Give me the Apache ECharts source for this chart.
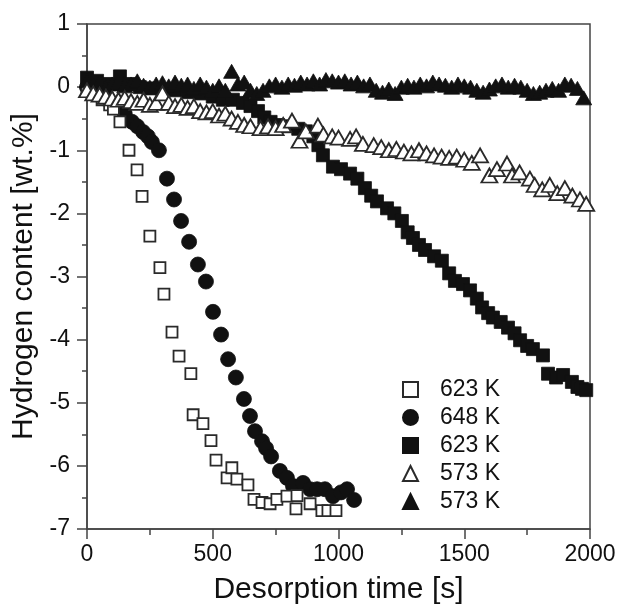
<!DOCTYPE html>
<html><head><meta charset="utf-8">
<script src="https://cdn.jsdelivr.net/npm/echarts@6/dist/echarts.min.js"></script>
<style>html,body{margin:0;padding:0;background:#fff}#c{width:619px;height:610px}</style>
</head><body><div id="c"></div>
<script>
// ---- data ----
const legendNames = ['623 K', '648 K', '623 K ', '573 K', '573 K '];
const xTicks = [0, 500, 1000, 1500, 2000];
const yTicks = [1, 0, -1, -2, -3, -4, -5, -6, -7];

const sqOpenT = [0, 30, 60, 90, 105, 131, 167, 199, 219, 250, 290, 306, 338, 366, 413, 422, 461, 493, 513, 557, 576, 596, 640, 664, 696, 728, 755, 795, 831, 835, 887, 934, 958, 990];
const sqOpenV = [-0.05, -0.12, -0.2, -0.28, -0.35, -0.55, -1.0, -1.31, -1.73, -2.36, -2.86, -3.28, -3.88, -4.26, -4.54, -5.19, -5.33, -5.6, -5.91, -6.19, -6.03, -6.21, -6.3, -6.53, -6.58, -6.6, -6.53, -6.48, -6.68, -6.47, -6.6, -6.71, -6.71, -6.71];

const circT = [0, 40, 80, 120, 150, 179, 200, 223, 242, 258, 286, 318, 346, 374, 406, 441, 473, 501, 533, 561, 592, 624, 648, 668, 696, 712, 732, 767, 795, 819, 859, 887, 915, 946, 978, 1010, 1034, 1062];
const circV = [0.0, -0.08, -0.18, -0.3, -0.42, -0.55, -0.62, -0.71, -0.78, -0.87, -1.0, -1.45, -1.78, -2.12, -2.45, -2.81, -3.08, -3.56, -3.92, -4.31, -4.6, -4.94, -5.21, -5.45, -5.61, -5.72, -5.85, -6.08, -6.19, -6.32, -6.27, -6.37, -6.37, -6.37, -6.48, -6.42, -6.37, -6.54];

const sqFillT = [0, 40, 80, 131, 170, 210, 250, 300, 350, 400, 450, 500, 540, 580, 620, 650, 680, 705, 730, 760, 800, 840, 870, 900, 920, 938, 978, 1010, 1046, 1075, 1105, 1130, 1153, 1193, 1222, 1252, 1275, 1296, 1320, 1344, 1380, 1411, 1440, 1463, 1495, 1523, 1550, 1571, 1595, 1614, 1645, 1674, 1700, 1722, 1750, 1773, 1813, 1833, 1865, 1893, 1928, 1950, 1968, 1985];
const sqFillV = [0.15, 0.1, 0.05, 0.17, 0.05, 0.0, -0.02, -0.05, -0.05, -0.08, -0.1, -0.15, -0.2, -0.2, -0.25, -0.3, -0.38, -0.48, -0.55, -0.6, -0.62, -0.66, -0.7, -0.78, -0.92, -1.08, -1.26, -1.3, -1.37, -1.45, -1.6, -1.72, -1.81, -1.92, -2.0, -2.12, -2.3, -2.39, -2.5, -2.58, -2.68, -2.75, -2.95, -3.07, -3.12, -3.22, -3.35, -3.49, -3.58, -3.65, -3.72, -3.81, -3.9, -4.01, -4.1, -4.15, -4.25, -4.54, -4.6, -4.56, -4.67, -4.75, -4.78, -4.8];

const triOpenT = [0, 25, 50, 75, 100, 125, 150, 175, 200, 225, 250, 275, 300, 325, 350, 375, 400, 425, 450, 475, 500, 525, 550, 575, 600, 625, 650, 690, 720, 750, 780, 815, 845, 870, 918, 940, 975, 1000, 1046, 1070, 1097, 1140, 1170, 1200, 1230, 1260, 1290, 1320, 1350, 1380, 1410, 1440, 1470, 1500, 1530, 1563, 1600, 1630, 1670, 1690, 1720, 1761, 1780, 1810, 1840, 1870, 1900, 1930, 1960, 1985];
const triOpenV = [-0.05, -0.1, -0.12, -0.15, -0.18, -0.2, -0.17, -0.22, -0.25, -0.2, -0.28, -0.25, -0.1, -0.25, -0.3, -0.28, -0.33, -0.3, -0.38, -0.4, -0.38, -0.45, -0.42, -0.5, -0.55, -0.6, -0.62, -0.65, -0.62, -0.65, -0.6, -0.53, -0.85, -0.7, -0.61, -0.75, -0.78, -0.8, -0.82, -0.78, -0.9, -0.92, -0.95, -1.0, -0.98, -1.02, -1.05, -1.0, -1.05, -1.08, -1.1, -1.12, -1.1, -1.15, -1.2, -1.08, -1.4, -1.3, -1.21, -1.4, -1.35, -1.45, -1.55, -1.62, -1.55, -1.68, -1.6, -1.72, -1.78, -1.85];

const triFillT = [0, 25, 50, 75, 100, 125, 150, 175, 200, 225, 250, 275, 300, 325, 350, 375, 400, 425, 450, 475, 500, 525, 550, 575, 600, 625, 650, 675, 700, 725, 750, 775, 800, 825, 850, 875, 900, 925, 950, 975, 1000, 1025, 1050, 1075, 1100, 1125, 1150, 1175, 1200, 1225, 1250, 1275, 1300, 1325, 1350, 1375, 1400, 1425, 1450, 1475, 1500, 1525, 1550, 1575, 1600, 1625, 1650, 1675, 1700, 1725, 1750, 1775, 1800, 1825, 1850, 1875, 1900, 1925, 1950, 1975];
const triFillV = [0.1, 0.05, 0.08, 0.0, 0.05, 0.08, 0.02, 0.05, 0.1, 0.03, 0.0, 0.05, 0.07, 0.02, 0.08, 0.03, 0.05, -0.02, 0.05, 0.0, -0.05, 0.02, -0.05, 0.25, 0.05, 0.08, -0.05, -0.1, -0.05, 0.02, 0.05, 0.0, 0.05, 0.03, 0.08, 0.05, 0.1, 0.05, 0.12, 0.1, 0.08, 0.1, 0.05, 0.08, 0.02, 0.05, -0.05, -0.08, -0.03, -0.1, 0.0, 0.03, 0.0, 0.05, 0.02, 0.08, 0.05, 0.03, 0.0, 0.05, 0.02, 0.0, -0.05, -0.08, -0.03, 0.02, 0.05, 0.0, 0.03, 0.0, -0.05, -0.1, -0.08, -0.05, -0.02, -0.05, 0.05, 0.03, -0.02, -0.17];

// ---- chart ----
const zip = (a, b) => a.map((t, i) => [t, b[i]]);
const FONT = '"Liberation Sans", Arial, sans-serif';
const AX = '#444';
const TXT = '#111';
const chart = echarts.init(document.getElementById('c'), null, {renderer: 'canvas'});

function ser(name, data, symbol, size, filled, z) {
  return {
    name, type: 'scatter', data, symbol, symbolSize: size, z,
    itemStyle: filled ? {color: '#111', borderColor: '#111', borderWidth: 0.8, opacity: 1}
                      : {color: '#fff', borderColor: '#2a2a2a', borderWidth: 1.8, opacity: 1},
    emphasis: {disabled: true}, animation: false
  };
}

chart.setOption({
  animation: false,
  backgroundColor: '#fff',
  grid: {left: 87, right: 29, top: 24, bottom: 77, show: true, borderColor: AX, borderWidth: 1.5, backgroundColor: 'transparent'},
  xAxis: {
    type: 'value', min: 0, max: 2000, interval: 500,
    name: 'Desorption time [s]', nameLocation: 'middle', nameGap: 46,
    nameTextStyle: {fontFamily: FONT, fontSize: 30, color: TXT},
    axisLine: {onZero: false, lineStyle: {color: AX, width: 1.5}},
    axisTick: {inside: false, length: 10, lineStyle: {color: AX, width: 1.5}},
    minorTick: {show: true, splitNumber: 2, length: 6, lineStyle: {color: AX, width: 1.5}},
    axisLabel: {fontFamily: FONT, fontSize: 23, color: TXT, margin: 14,
      formatter: v => xTicks.includes(v) ? String(v) : ''},
    splitLine: {show: false}
  },
  yAxis: {
    type: 'value', min: -7, max: 1, interval: 1,
    name: 'Hydrogen content [wt.%]', nameLocation: 'middle', nameGap: 42, nameRotate: 90,
    nameTextStyle: {fontFamily: FONT, fontSize: 30, color: TXT},
    axisLine: {onZero: false, lineStyle: {color: AX, width: 1.5}},
    axisTick: {inside: false, length: 10, lineStyle: {color: AX, width: 1.5}},
    minorTick: {show: true, splitNumber: 2, length: 5, lineStyle: {color: AX, width: 1.5}},
    axisLabel: {fontFamily: FONT, fontSize: 23, color: TXT, margin: 17,
      formatter: v => yTicks.includes(v) ? String(v) : ''},
    splitLine: {show: false}
  },
  legend: {
    orient: 'vertical', left: 397, top: 373, itemGap: 5,
    itemWidth: 15, itemHeight: 15,
    textStyle: {fontFamily: FONT, fontSize: 23, color: TXT, lineHeight: 23, padding: [0, 0, 0, 17]},
    data: legendNames.map(n => ({name: n}))
  },
  series: [
    ser(legendNames[0], zip(sqOpenT, sqOpenV), 'rect', 11, false, 3),
    ser(legendNames[1], zip(circT, circV), 'circle', 15, true, 2),
    ser(legendNames[2], zip(sqFillT, sqFillV), 'rect', 13, true, 1),
    ser(legendNames[3], zip(triOpenT, triOpenV), 'triangle', [16, 14], false, 5),
    ser(legendNames[4], zip(triFillT, triFillV), 'triangle', [16, 14], true, 4)
  ]
});
</script>
</body></html>
